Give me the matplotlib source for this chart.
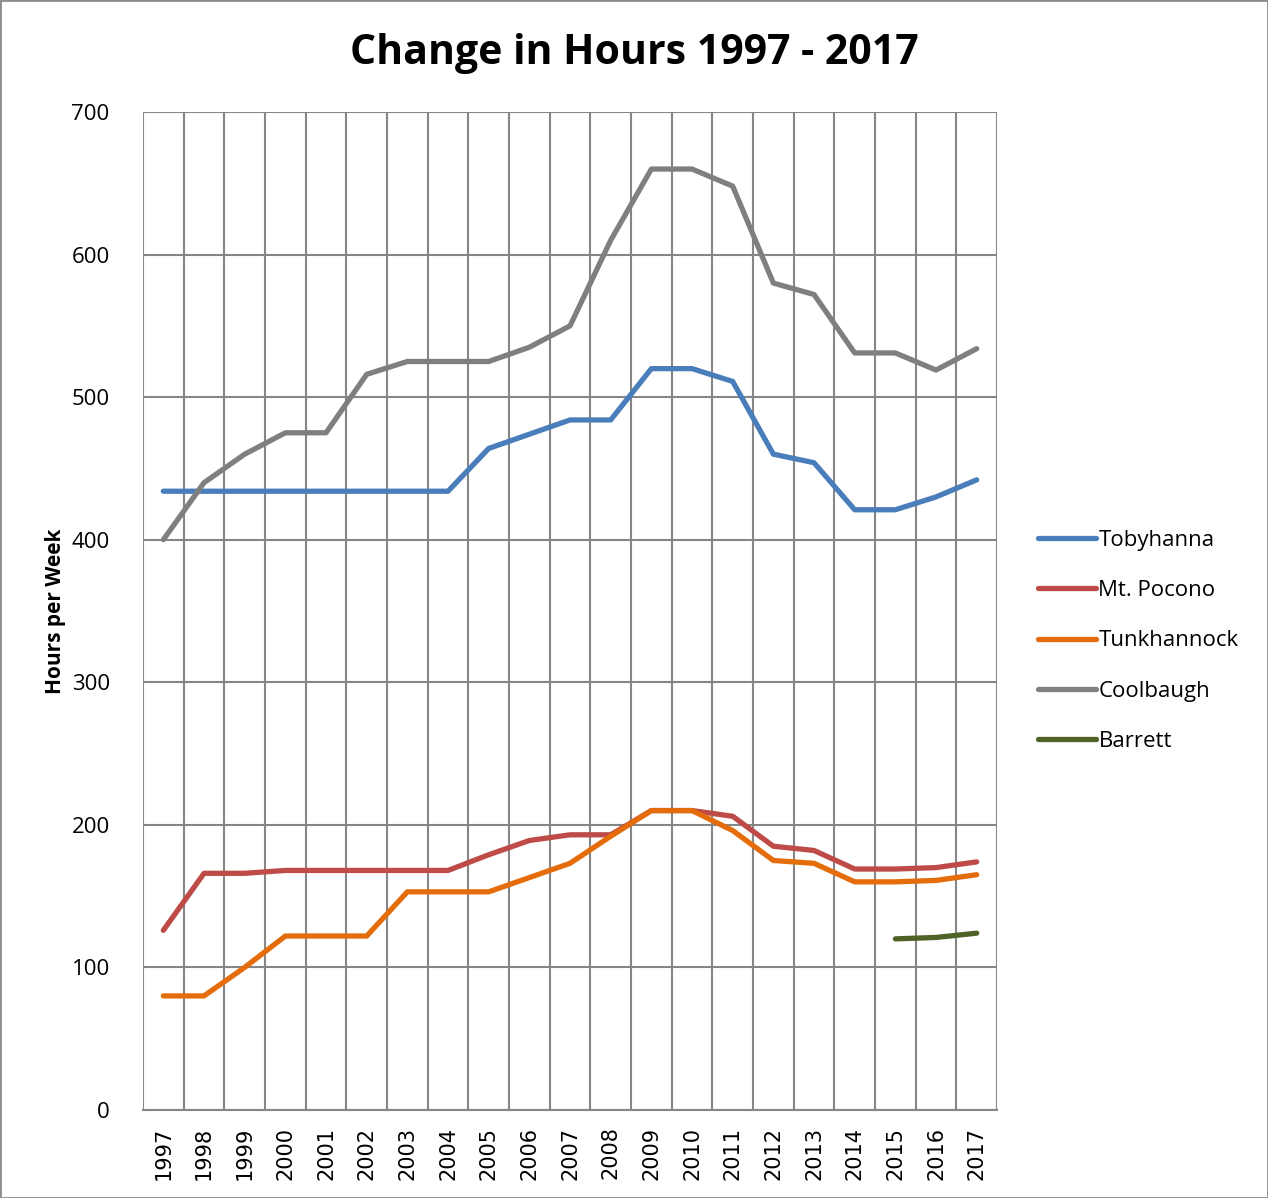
import matplotlib
matplotlib.use('Agg')
import matplotlib.pyplot as plt
import numpy as np

years = [str(y) for y in range(1997, 2018)]

tobyhanna = [434, 434, 434, 434, 434, 434, 434, 434, 464, 474, 484, 484,
             520, 520, 511, 460, 454, 421, 421, 430, 442]
mt_pocono = [126, 166, 166, 168, 168, 168, 168, 168, 179, 189, 193, 193,
             210, 210, 206, 185, 182, 169, 169, 170, 174]
tunkhannock = [80, 80, 100, 122, 122, 122, 153, 153, 153, 163, 173, 192,
               210, 210, 196, 175, 173, 160, 160, 161, 165]
coolbaugh = [400, 440, 460, 475, 475, 516, 525, 525, 525, 535, 550, 610,
             660, 660, 648, 580, 572, 531, 531, 519, 534]
barrett_years = ['2015', '2016', '2017']
barrett = [120, 121, 124]

series = [
    ('Tobyhanna', tobyhanna, '#4A7EBB'),
    ('Mt. Pocono', mt_pocono, '#BE4B48'),
    ('Tunkhannock', tunkhannock, '#E46C0A'),
    ('Coolbaugh', coolbaugh, '#7F7F7F'),
]

fig = plt.figure(figsize=(12.68, 11.98), dpi=100)
fig.patches.append(plt.Rectangle((0, 0), 1, 1, transform=fig.transFigure,
                                 fill=False, edgecolor='#8c8c8c', linewidth=2))
ax = fig.add_axes([0.1128, 0.0735, 0.6735, 0.833])

x = np.arange(len(years))
for name, vals, col in series:
    ax.plot(x, vals, color=col, linewidth=3.8, label=name, solid_capstyle='round')
bx = [years.index(y) for y in barrett_years]
ax.plot(bx, barrett, color='#4F6228', linewidth=3.8, label='Barrett', solid_capstyle='round')

ax.set_xlim(-0.5, len(years) - 0.5)
ax.set_ylim(0, 700)
ax.set_yticks(range(0, 701, 100))
ax.set_xticks(x)
ax.set_xticklabels(years, rotation=90, fontsize=15)
ax.set_xticks(np.arange(-0.5, len(years)), minor=True)
ax.tick_params(axis='x', which='both', length=0, pad=12)
ax.tick_params(axis='y', length=0, pad=24, labelsize=16)
for lab in ax.get_yticklabels():
    lab.set_family('Open Sans')
ax.grid(True, which='minor', axis='x', color='#868686', linewidth=1.5)
ax.grid(True, which='major', axis='y', color='#868686', linewidth=1.5)
ax.set_axisbelow(True)
for side in ['top', 'right', 'left']:
    ax.spines[side].set_visible(False)
ax.spines['bottom'].set_color('#868686')
ax.spines['bottom'].set_linewidth(1.5)

ax.set_ylabel('Hours per Week', fontsize=15, fontweight='bold', family='Open Sans', labelpad=4)
fig.text(0.5, 0.955, 'Change in Hours 1997 - 2017', ha='center', va='center',
         fontsize=29.5, fontweight='bold', family='Open Sans')

ax.legend(loc='center left', bbox_to_anchor=(1.025, 0.47), frameon=False,
          prop={'family': 'Open Sans', 'size': 16}, handlelength=2.6,
          handletextpad=0.1, labelspacing=1.32)

fig.savefig('out.png', dpi=100)
